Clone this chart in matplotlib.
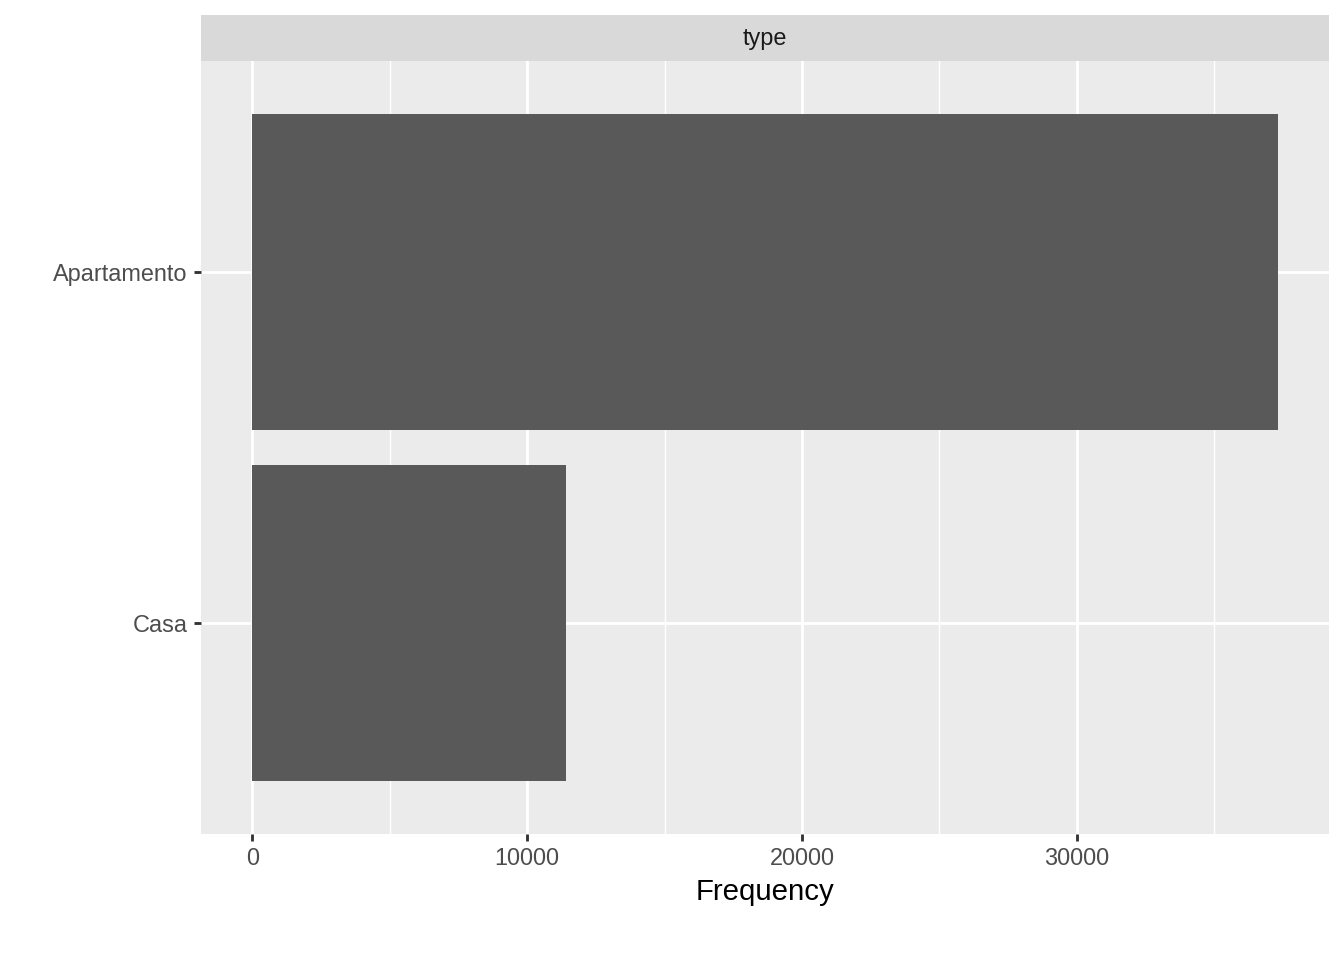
import numpy as np
import matplotlib
matplotlib.use("Agg")
from matplotlib import pyplot as plt

categories = ["Apartamento", "Casa"]
counts = [37310, 11420]
major_ticks = [0, 10000, 20000, 30000]
minor_ticks = [5000, 15000, 25000, 35000]
facet_label = "type"
x_title = "Frequency"

plt.rcParams['font.family'] = ['Liberation Sans', 'DejaVu Sans']

W, H = 1344, 960
fig = plt.figure(figsize=(7, 5), dpi=192)

# panel position in pixels
left, right, top, bottom = 201, 1329, 61, 834
ax = fig.add_axes([left / W, 1 - bottom / H, (right - left) / W, (bottom - top) / H])
ax.set_facecolor("#EBEBEB")

ypos = np.arange(len(categories))[::-1] + 1  # Apartamento on top
ax.barh(ypos, counts, height=0.9, color="#595959", zorder=3)

xmax = max(counts)
pad = 0.05 * xmax
ax.set_xlim(-pad, xmax + pad)
ax.set_ylim(0.4, len(categories) + 0.6)

ax.set_xticks(major_ticks)
ax.set_xticklabels([str(t) for t in major_ticks])
ax.set_xticks(minor_ticks, minor=True)
ax.set_yticks(ypos)
ax.set_yticklabels(categories)

ax.grid(which="major", color="white", linewidth=1.07, zorder=1)
ax.grid(which="minor", axis="x", color="white", linewidth=0.53, zorder=1)
ax.set_axisbelow(True)

for s in ax.spines.values():
    s.set_visible(False)

ax.tick_params(axis="both", which="major", length=2.75, width=1.07, color="#333333",
               labelsize=8.8, labelcolor="#4D4D4D", pad=2.2)
ax.tick_params(axis="x", which="minor", length=0)
ax.set_xlabel(x_title, fontsize=11, color="black", labelpad=2.75)

# facet strip
strip_top = 15
sax = fig.add_axes([left / W, 1 - top / H, (right - left) / W, (top - strip_top) / H])
sax.set_facecolor("#D9D9D9")
sax.set_xticks([])
sax.set_yticks([])
for s in sax.spines.values():
    s.set_visible(False)
sax.text(0.5, 0.5, facet_label, ha="center", va="center", fontsize=8.8,
         color="#1A1A1A", transform=sax.transAxes)

fig.savefig("out.png", dpi=192, facecolor="white")
